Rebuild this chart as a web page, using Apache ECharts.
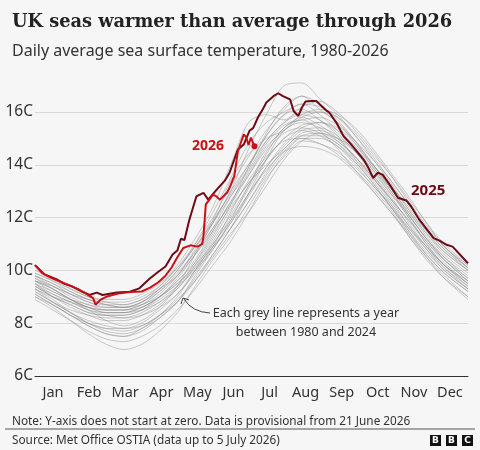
<!DOCTYPE html>
<html>
<head>
<meta charset="utf-8">
<script src="https://cdn.jsdelivr.net/npm/echarts@6/dist/echarts.min.js"></script>
<style>
  html, body { margin: 0; padding: 0; background: #f6f6f6; }
  #chart { width: 480px; height: 450px; }
</style>
</head>
<body>
<div id="chart"></div>
<script>
// month labels under the axis
var months = ['Jan', 'Feb', 'Mar', 'Apr', 'May', 'Jun', 'Jul', 'Aug', 'Sep', 'Oct', 'Nov', 'Dec'];

// grey years 1980-2024, read every ~15 days (day of year)
var greyDays = [0, 15, 30, 45, 60, 75, 90, 105, 120, 135, 150, 165, 180, 195, 210, 225, 240, 255, 270, 285, 300, 315, 330, 345, 365];
var grey01 = [9.3, 8.9, 8.4, 8.0, 7.7, 7.6, 7.8, 8.2, 8.8, 9.8, 10.8, 11.8, 12.9, 13.8, 14.5, 14.7, 14.6, 14.3, 13.7, 13.0, 12.2, 11.4, 10.6, 9.9, 9.2];
var grey02 = [9.0, 8.6, 8.1, 7.6, 7.2, 7.0, 7.2, 7.7, 8.4, 9.4, 10.4, 11.3, 12.4, 13.5, 14.3, 14.9, 14.8, 14.4, 13.8, 13.1, 12.3, 11.3, 10.5, 9.8, 9.0];
var grey03 = [9.6, 9.2, 8.9, 8.7, 8.5, 8.5, 8.6, 9.0, 9.5, 10.2, 11.0, 12.0, 13.1, 14.2, 15.0, 15.3, 15.1, 14.7, 14.0, 13.2, 12.5, 11.6, 10.8, 10.1, 9.4];
var grey04 = [9.8, 9.5, 9.1, 8.8, 8.6, 8.6, 8.8, 9.3, 10.0, 10.9, 11.8, 12.8, 13.8, 14.9, 15.6, 15.9, 15.7, 15.2, 14.5, 13.7, 12.9, 12.1, 11.2, 10.5, 9.8];
var grey05 = [9.2, 8.8, 8.5, 8.3, 8.2, 8.2, 8.3, 8.6, 9.1, 9.9, 10.9, 12.2, 13.4, 14.3, 14.9, 15.0, 14.8, 14.5, 13.9, 13.2, 12.4, 11.6, 10.9, 10.2, 9.5];
var grey06 = [9.5, 9.0, 8.7, 8.4, 8.3, 8.3, 8.5, 9.0, 9.6, 10.4, 11.5, 12.6, 13.6, 14.6, 15.4, 15.8, 15.5, 15.0, 14.3, 13.5, 12.6, 11.7, 10.9, 10.2, 9.6];
var grey07 = [9.9, 9.6, 9.2, 8.9, 8.8, 8.8, 9.0, 9.4, 10.1, 11.0, 12.0, 13.2, 14.3, 15.3, 16.1, 16.6, 16.1, 15.6, 14.8, 13.9, 13.1, 12.2, 11.4, 10.7, 10.0];
var grey08 = [9.4, 9.1, 8.8, 8.5, 8.3, 8.2, 8.4, 8.8, 9.3, 10.2, 11.2, 12.3, 13.3, 14.0, 14.6, 15.2, 15.3, 15.0, 14.5, 13.8, 13.0, 12.0, 11.1, 10.4, 9.7];
var grey09 = [9.7, 9.3, 8.9, 8.6, 8.4, 8.4, 8.6, 9.0, 9.6, 10.3, 11.3, 12.5, 13.9, 15.1, 15.9, 16.1, 15.7, 15.1, 14.2, 13.4, 12.5, 11.5, 10.6, 9.9, 9.2];
var grey10 = [9.1, 8.7, 8.3, 7.9, 7.6, 7.5, 7.8, 8.3, 9.0, 10.0, 11.0, 11.9, 12.9, 13.9, 14.7, 15.3, 15.4, 15.1, 14.5, 13.6, 12.7, 11.7, 10.8, 10.0, 9.3];
var grey11 = [10.0, 9.7, 9.3, 9.0, 8.9, 8.9, 9.1, 9.5, 10.1, 10.9, 11.9, 12.9, 14.0, 15.1, 15.9, 16.3, 16.2, 15.8, 15.1, 14.3, 13.4, 12.5, 11.6, 10.8, 10.1];
var grey12 = [9.5, 9.2, 8.9, 8.6, 8.4, 8.4, 8.5, 8.8, 9.4, 10.3, 11.4, 12.4, 13.3, 14.2, 15.0, 15.5, 15.6, 15.4, 14.8, 14.0, 13.1, 12.2, 11.3, 10.5, 9.7];
var grey13 = [9.9, 9.6, 9.3, 9.0, 8.8, 8.7, 8.9, 9.4, 10.2, 11.2, 12.4, 14.0, 15.6, 15.9, 15.7, 16.2, 16.4, 16.0, 15.3, 14.5, 13.6, 12.6, 11.7, 10.9, 10.1];
var grey14 = [9.6, 9.3, 8.9, 8.5, 8.1, 7.9, 8.1, 8.6, 9.4, 10.6, 11.8, 13.0, 14.6, 15.9, 17.0, 17.1, 16.5, 15.9, 15.1, 14.2, 13.3, 12.3, 11.4, 10.6, 9.9];
var grey15 = [9.3, 9.0, 8.8, 8.6, 8.5, 8.5, 8.7, 9.0, 9.5, 10.1, 10.9, 11.8, 12.8, 13.9, 14.8, 15.4, 15.6, 15.3, 14.7, 14.0, 13.2, 12.4, 11.5, 10.7, 10.0];
var grey16 = [8.9, 8.5, 8.1, 7.7, 7.4, 7.3, 7.5, 7.9, 8.5, 9.3, 10.2, 11.1, 12.2, 13.4, 14.4, 15.0, 15.0, 14.7, 14.1, 13.3, 12.4, 11.4, 10.5, 9.7, 8.9];
var grey17 = [9.8, 9.4, 9.1, 8.8, 8.7, 8.7, 8.9, 9.3, 9.8, 10.6, 11.5, 12.6, 13.7, 14.8, 15.5, 15.7, 15.8, 15.5, 14.9, 14.2, 13.4, 12.5, 11.6, 10.9, 10.1];
var grey18 = [9.4, 9.0, 8.7, 8.4, 8.3, 8.3, 8.5, 8.9, 9.4, 10.0, 10.8, 11.9, 13.2, 14.5, 15.2, 15.4, 15.2, 14.8, 14.1, 13.3, 12.4, 11.5, 10.7, 10.0, 9.3];
var grey19 = [9.7, 9.4, 9.0, 8.7, 8.6, 8.6, 8.8, 9.2, 9.9, 10.7, 11.8, 13.0, 14.0, 14.9, 15.6, 16.0, 16.0, 15.6, 14.9, 14.0, 13.2, 12.3, 11.5, 10.8, 10.0];
var grey20 = [9.2, 8.8, 8.4, 8.0, 7.8, 7.8, 8.0, 8.5, 9.1, 10.0, 10.9, 11.6, 12.6, 13.6, 14.5, 15.1, 15.2, 14.9, 14.3, 13.5, 12.7, 11.9, 11.0, 10.2, 9.4];
var grey21 = [9.5, 9.1, 8.8, 8.5, 8.4, 8.4, 8.6, 9.0, 9.7, 10.6, 11.6, 12.8, 13.9, 15.2, 16.2, 16.6, 16.3, 15.7, 14.9, 14.0, 13.1, 12.1, 11.2, 10.4, 9.6];
var grey22 = [9.0, 8.7, 8.3, 7.9, 7.6, 7.5, 7.7, 8.2, 8.8, 9.7, 10.6, 11.6, 12.6, 13.7, 14.6, 15.1, 15.1, 14.8, 14.2, 13.5, 12.7, 11.9, 11.1, 10.3, 9.5];
var grey23 = [9.6, 9.4, 9.1, 8.9, 8.7, 8.6, 8.7, 9.1, 9.8, 10.8, 11.9, 13.4, 14.4, 15.0, 15.3, 15.8, 16.0, 15.8, 15.2, 14.4, 13.6, 12.7, 11.8, 10.9, 10.2];
var grey24 = [9.3, 8.8, 8.4, 8.1, 7.9, 7.8, 7.9, 8.3, 8.9, 9.6, 10.5, 11.4, 12.2, 13.2, 14.2, 14.9, 15.2, 15.0, 14.6, 13.9, 13.0, 12.1, 11.2, 10.4, 9.6];
var grey25 = [9.8, 9.5, 9.2, 8.9, 8.7, 8.6, 8.8, 9.3, 10.0, 11.0, 12.2, 13.5, 14.8, 15.6, 16.0, 16.3, 15.9, 15.3, 14.6, 13.8, 12.9, 12.0, 11.0, 10.2, 9.5];
var grey26 = [9.1, 8.7, 8.3, 8.0, 7.8, 7.7, 7.9, 8.3, 8.8, 9.6, 10.6, 11.6, 12.9, 14.2, 15.3, 15.6, 15.4, 14.9, 14.3, 13.6, 12.8, 11.8, 10.9, 10.1, 9.3];
var grey27 = [9.6, 9.3, 8.9, 8.6, 8.5, 8.5, 8.7, 9.2, 9.8, 10.7, 11.6, 12.5, 13.6, 14.7, 15.3, 15.9, 16.1, 15.9, 15.4, 14.6, 13.7, 12.8, 11.8, 11.0, 10.2];
var grey28 = [9.4, 9.0, 8.6, 8.3, 8.1, 8.1, 8.3, 8.7, 9.3, 10.1, 11.1, 12.1, 13.2, 14.4, 15.4, 15.7, 15.3, 14.6, 13.8, 13.0, 12.2, 11.3, 10.4, 9.7, 9.0];
var greyLines = [grey01, grey02, grey03, grey04, grey05, grey06, grey07, grey08, grey09, grey10, grey11, grey12, grey13, grey14,
                 grey15, grey16, grey17, grey18, grey19, grey20, grey21, grey22, grey23, grey24, grey25, grey26, grey27, grey28];

// 2025 (dark red)
var days2025 = [0, 8, 18, 24, 32, 40, 46, 52, 57, 69, 80, 88, 97, 104, 110, 116, 120, 123, 126, 130, 136, 142, 146, 153, 160, 164, 171, 176, 181, 184, 188, 192, 195, 201, 205, 209, 215, 218, 222, 225, 228, 233, 237, 240, 246, 248, 254, 260, 266, 270, 277, 281, 285, 289, 293, 299, 306, 313, 317, 324, 336, 341, 347, 352, 365];
var temps2025 = [10.2, 9.85, 9.67, 9.51, 9.38, 9.19, 9.07, 9.16, 9.07, 9.16, 9.19, 9.32, 9.7, 9.95, 10.15, 10.6, 10.75, 11.2, 11.15, 11.9, 12.8, 12.94, 12.68, 13.05, 13.4, 13.7, 14.58, 14.77, 15.3, 15.4, 15.8, 16.1, 16.36, 16.6, 16.71, 16.6, 16.48, 16.04, 15.85, 16.17, 16.4, 16.42, 16.42, 16.29, 16.04, 15.98, 15.6, 15.09, 14.8, 14.58, 14.2, 13.89, 13.5, 13.7, 13.63, 13.25, 12.75, 12.65, 12.43, 11.92, 11.22, 11.13, 10.97, 10.9, 10.27];

// 2026 (red), data up to 5 July
var days2026 = [0, 6, 12, 20, 28, 36, 43, 49, 51, 55, 60, 70, 80, 90, 97, 104, 110, 115, 120, 125, 131, 137, 141, 142, 144, 147, 150, 153, 156, 162, 164, 168, 171, 174, 176, 178, 180, 182, 185];
var temps2026 = [10.2, 9.9, 9.75, 9.6, 9.45, 9.3, 9.12, 8.95, 8.7, 8.88, 9.0, 9.12, 9.18, 9.2, 9.35, 9.55, 9.8, 10.1, 10.5, 10.85, 10.95, 10.9, 11.0, 11.3, 12.5, 12.68, 12.87, 12.8, 12.68, 12.95, 13.13, 13.57, 14.5, 14.9, 15.15, 15.05, 14.75, 15.03, 14.7];

function pairs(xs, ys) {
  return xs.map(function (x, i) { return [x, ys[i]]; });
}

var sans = "'Noto Sans', sans-serif";
var series = [];
greyLines.forEach(function (g) {
  series.push({
    type: 'line',
    data: pairs(greyDays, g),
    showSymbol: false,
    smooth: 0.3,
    clip: false,
    silent: true,
    lineStyle: { color: '#888888', width: 0.8, opacity: 0.55 },
    z: 1
  });
});
series.push({
  name: '2025',
  type: 'line',
  data: pairs(days2025, temps2025),
  showSymbol: false,
  clip: false,
  lineStyle: { color: '#6e0b16', width: 2 },
  z: 3
});
series.push({
  name: '2026',
  type: 'line',
  data: pairs(days2026, temps2026),
  showSymbol: false,
  clip: false,
  lineStyle: { color: '#cc1016', width: 2 },
  markPoint: {
    symbol: 'circle',
    symbolSize: 6,
    itemStyle: { color: '#cc1016' },
    label: { show: false },
    data: [{ coord: [days2026[days2026.length - 1], temps2026[temps2026.length - 1]] }]
  },
  z: 4
});

var option = {
  backgroundColor: '#f6f6f6',
  animation: false,
  title: [
    {
      text: 'UK seas warmer than average through 2026',
      left: 7, top: 8,
      textStyle: { fontFamily: "'DejaVu Serif', serif", fontWeight: 'bold', fontSize: 17.8, color: '#222' }
    },
    {
      text: 'Daily average sea surface temperature, 1980-2026',
      left: 7, top: 38,
      textStyle: { fontFamily: sans, fontWeight: 'normal', fontSize: 16, color: '#333' }
    },
    {
      text: 'Note: Y-axis does not start at zero. Data is provisional from 21 June 2026',
      left: 7, top: 411,
      textStyle: { fontFamily: sans, fontWeight: 'normal', fontSize: 11.8, color: '#333' }
    },
    {
      text: 'Source: Met Office OSTIA (data up to 5 July 2026)',
      left: 7, top: 430,
      textStyle: { fontFamily: sans, fontWeight: 'normal', fontSize: 11.8, color: '#333' }
    }
  ],
  grid: { left: 35, right: 12, top: 112, bottom: 74 },
  xAxis: [
    { type: 'value', min: 0, max: 365, show: false },
    {
      type: 'category',
      data: months,
      boundaryGap: true,
      position: 'bottom',
      axisLine: { lineStyle: { color: '#333', width: 1 } },
      axisTick: { length: 5, interval: 0, lineStyle: { color: '#333' } },
      axisLabel: { color: '#333', fontSize: 14.5, fontFamily: sans, margin: 9, interval: 0, hideOverlap: false },
      splitLine: { show: false }
    }
  ],
  yAxis: {
    type: 'value',
    min: 6, max: 16, interval: 2,
    axisLine: { show: false },
    axisTick: { show: false },
    axisLabel: { formatter: '{value}C', color: '#333', fontSize: 15.5, fontFamily: sans, margin: 2 },
    splitLine: { lineStyle: { color: '#dadada', width: 1 } }
  },
  series: series,
  graphic: [
    { type: 'text', x: 192, y: 139, style: { text: '2026', fill: '#cc1016', font: "bold 14px 'Noto Sans'" } },
    { type: 'text', x: 411, y: 183, style: { text: '2025', fill: '#6e0b16', font: "bold 15px 'Noto Sans'" } },
    {
      type: 'text', x: 306, y: 304,
      style: { text: 'Each grey line represents a year\nbetween 1980 and 2024', fill: '#333', font: "12.5px 'Noto Sans'", lineHeight: 19, align: 'center' }
    },
    {
      type: 'bezierCurve', z: 10,
      shape: { x1: 210, y1: 313, cpx1: 192, cpy1: 312, x2: 184, y2: 299 },
      style: { stroke: '#444', lineWidth: 1, fill: null }
    },
    {
      type: 'polyline', z: 10,
      shape: { points: [[181, 304], [183, 298], [189, 300]] },
      style: { stroke: '#444', lineWidth: 1, fill: null }
    },
    {
      type: 'line',
      shape: { x1: 5, y1: 429, x2: 475, y2: 429 },
      style: { stroke: '#555', lineWidth: 1 }
    },
    { type: 'rect', shape: { x: 430, y: 435, width: 11, height: 11 }, style: { fill: '#111' } },
    { type: 'rect', shape: { x: 446, y: 435, width: 11, height: 11 }, style: { fill: '#111' } },
    { type: 'rect', shape: { x: 462, y: 435, width: 11, height: 11 }, style: { fill: '#111' } },
    { type: 'text', x: 435.5, y: 440.5, style: { text: 'B', fill: '#fff', font: "bold 9px 'DejaVu Sans'", align: 'center', verticalAlign: 'middle' } },
    { type: 'text', x: 451.5, y: 440.5, style: { text: 'B', fill: '#fff', font: "bold 9px 'DejaVu Sans'", align: 'center', verticalAlign: 'middle' } },
    { type: 'text', x: 467.5, y: 440.5, style: { text: 'C', fill: '#fff', font: "bold 9px 'DejaVu Sans'", align: 'center', verticalAlign: 'middle' } }
  ]
};

var myChart = echarts.init(document.getElementById('chart'));
myChart.setOption(option);
</script>
</body>
</html>
